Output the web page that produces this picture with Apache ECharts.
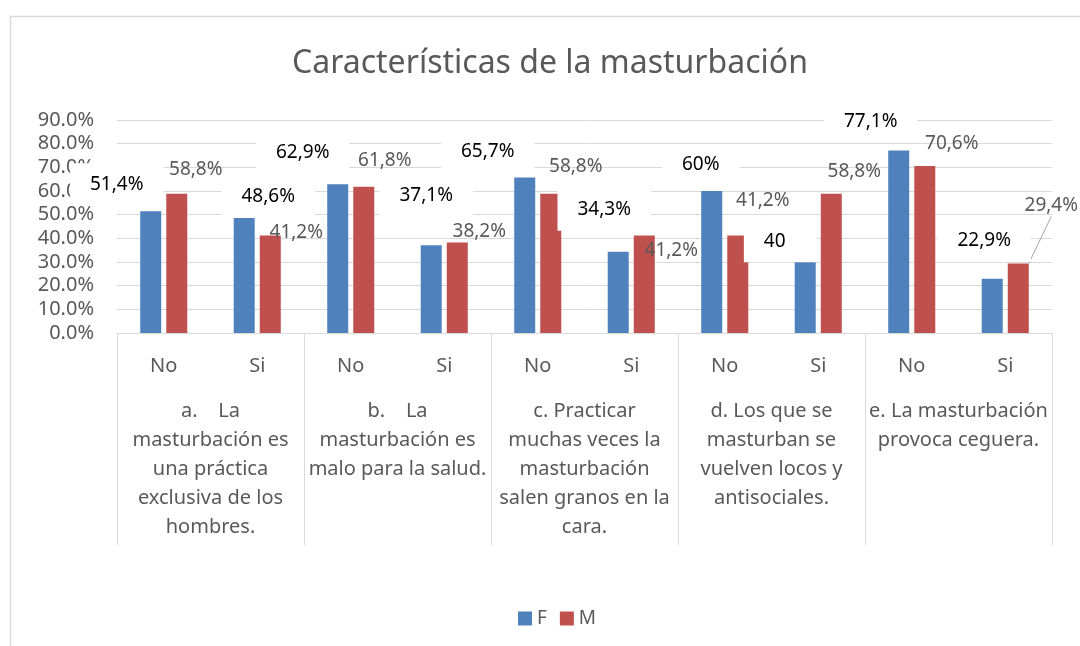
<!DOCTYPE html>
<html>
<head>
<meta charset="utf-8">
<script src="https://cdn.jsdelivr.net/npm/echarts@6/dist/echarts.min.js"></script>
<style>
  html, body { margin: 0; padding: 0; background: #fff; }
  #chart { width: 1080px; height: 646px; }
</style>
</head>
<body>
<div id="chart"></div>
<script>
// categorias (dos niveles)
var subCats = ['No', 'Si', 'No', 'Si', 'No', 'Si', 'No', 'Si', 'No', 'Si']
var groupCats = [
  'a.    La\nmasturbación es\nuna práctica\nexclusiva de los\nhombres.',
  'b.    La\nmasturbación es\nmalo para la salud.',
  'c. Practicar\nmuchas veces la\nmasturbación\nsalen granos en la\ncara.',
  'd. Los que se\nmasturban se\nvuelven locos y\nantisociales.',
  'e. La masturbación\nprovoca ceguera.'
]
// valores (%)
var fValues = [51.4, 48.6, 62.9, 37.1, 65.7, 34.3, 60, 40, 77.1, 22.9]
var mValues = [58.8, 41.2, 61.8, 38.2, 58.8, 41.2, 41.2, 58.8, 70.6, 29.4]
// textos de etiquetas tal como aparecen
var fLabels = ['51,4%', '48,6%', '62,9%', '37,1%', '65,7%', '34,3%', '60%', '40', '77,1%', '22,9%']
var mLabels = ['58,8%', '41,2%', '61,8%', '38,2%', '58,8%', '41,2%', '41,2%', '58,8%', '70,6%', '29,4%']
var yTicks = [0, 10, 20, 30, 40, 50, 60, 70, 80, 90]

// desplazamiento de etiquetas respecto al borde superior de cada barra
var fLabelShift = [[-34, -27], [24, -21], [-35, -32], [-5, -50], [-37, -26], [-14, -42], [-11, -26], [-25, 3], [-28, -29], [-8, -38]]
var mLabelShift = [[19, -24], [26, -3], [21, -26], [22, -11], [25, -27], [27, 15], [25, -35], [23, -22], [27, -22], [33, -58]]

var FONT = '"Noto Sans", "Open Sans", sans-serif'
var GRAY = '#595959'
var LINE = '#d9d9d9'

function moveLabel(shift) {
  return function (params) {
    var s = shift[params.dataIndex]
    return {
      x: params.rect.x + params.rect.width / 2 + s[0],
      y: params.rect.y + s[1],
      align: 'center',
      verticalAlign: 'middle'
    }
  }
}

var fData = fValues.map(function (v, i) {
  if (i === 7) {
    // caja de la etiqueta "40" mas ancha (tapa la barra)
    return { value: v, label: { padding: [10, 31, 10, 20] } }
  }
  return v
})
var mData = mValues.map(function (v, i) {
  if (i === 9) {
    return { value: v, labelLine: { show: true, lineStyle: { color: '#a6a6a6', width: 1 } } }
  }
  return v
})

var chart = echarts.init(document.getElementById('chart'))
var option = {
  animation: false,
  backgroundColor: '#fff',
  textStyle: { fontFamily: FONT },
  graphic: [{
    type: 'rect',
    shape: { x: 10.5, y: 16.5, width: 1200, height: 800 },
    style: { fill: 'none', stroke: LINE, lineWidth: 1.5 },
    silent: true,
    z: -10
  }],
  title: {
    text: 'Características de la masturbación',
    left: 287,
    top: 37,
    textStyle: { fontFamily: FONT, fontSize: 32, fontWeight: 'normal', color: GRAY, lineHeight: 44 }
  },
  legend: {
    data: ['F', 'M'],
    left: 513,
    top: 604,
    icon: 'rect',
    itemWidth: 14,
    itemHeight: 14,
    itemGap: 13,
    textStyle: { fontFamily: FONT, fontSize: 19, color: GRAY }
  },
  grid: { left: 117, right: 28, top: 120, bottom: 313 },
  xAxis: [{
    type: 'category',
    data: subCats,
    axisLine: { show: true, lineStyle: { color: LINE, width: 1 } },
    axisTick: { show: false },
    axisLabel: { interval: 0, margin: 22, fontFamily: FONT, fontSize: 20, lineHeight: 22, color: GRAY }
  }, {
    type: 'category',
    data: groupCats,
    position: 'bottom',
    axisLine: { show: false },
    axisTick: { show: true, interval: 0, length: 212, lineStyle: { color: LINE, width: 1 } },
    axisLabel: { interval: 0, margin: 64, fontFamily: FONT, fontSize: 20, lineHeight: 29, color: GRAY }
  }],
  yAxis: {
    type: 'value',
    min: yTicks[0],
    max: yTicks[yTicks.length - 1],
    interval: 10,
    axisLine: { show: false },
    axisTick: { show: false },
    splitLine: { lineStyle: { color: LINE, width: 1 } },
    axisLabel: {
      margin: 23,
      fontFamily: FONT,
      fontSize: 20,
      color: GRAY,
      formatter: function (v) { return v.toFixed(1) + '%' }
    }
  },
  series: [{
    name: 'F',
    type: 'bar',
    z: 3,
    data: fData,
    barWidth: 21,
    barGap: '24%',
    itemStyle: { color: '#4F81BD' },
    label: {
      show: true,
      position: 'top',
      formatter: function (p) { return fLabels[p.dataIndex] },
      fontFamily: FONT,
      fontSize: 19,
      lineHeight: 22,
      color: '#000',
      backgroundColor: '#fff',
      padding: [10, 20]
    },
    labelLayout: moveLabel(fLabelShift)
  }, {
    name: 'M',
    type: 'bar',
    z: 2,
    data: mData,
    barWidth: 21,
    itemStyle: { color: '#C0504D' },
    label: {
      show: true,
      position: 'top',
      formatter: function (p) { return mLabels[p.dataIndex] },
      fontFamily: FONT,
      fontSize: 19,
      lineHeight: 22,
      color: GRAY
    },
    labelLine: { show: false },
    labelLayout: moveLabel(mLabelShift)
  }]
}
chart.setOption(option)
</script>
</body>
</html>
